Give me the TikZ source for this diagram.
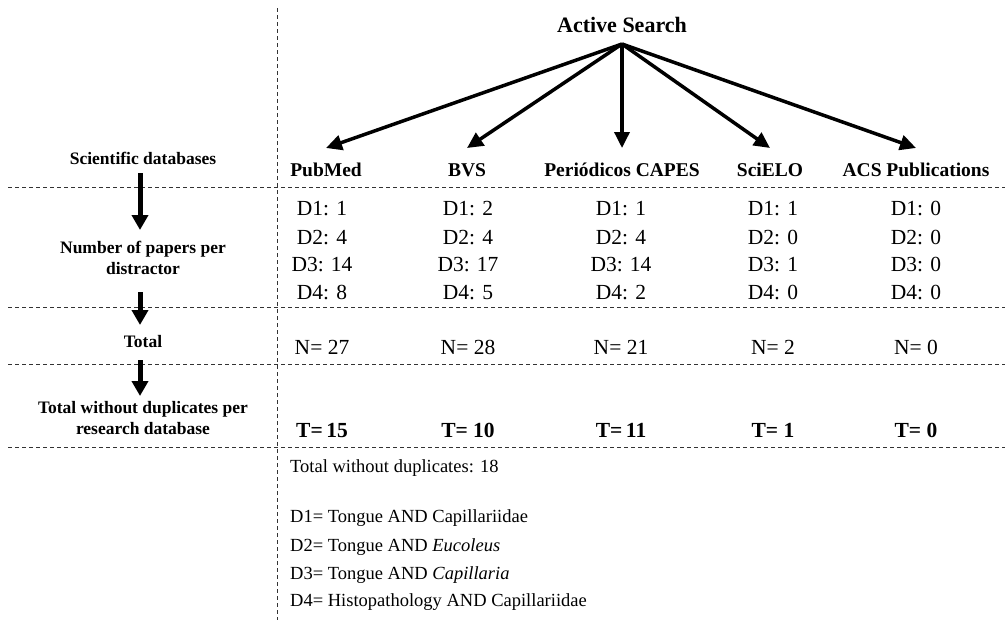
\documentclass[tikz,border=0pt]{standalone}
\usepackage{fontspec}
\setmainfont{Liberation Serif}
\usetikzlibrary{arrows.meta,calc}
\begin{document}
\begin{tikzpicture}[x=1pt,y=-1pt,
  sep/.style={dash pattern=on 4pt off 3pt, line width=1pt, color=black!80},
  fan/.style={line width=3.5pt, -{Triangle[length=16pt,width=15pt]}},
  down/.style={line width=5pt, -{Triangle[length=15pt,width=16pt]}},
  lab/.style={font=\bfseries\fontsize{17.5}{21}\selectfont, align=center, inner sep=0},
  hdr/.style={font=\bfseries\fontsize{19.5}{22}\selectfont, inner sep=0, anchor=base},
  title/.style={font=\bfseries\fontsize{22}{24}\selectfont, inner sep=0},
  cell/.style={font=\fontsize{21.5}{24}\selectfont, inner sep=0, anchor=base},
  tot/.style={font=\bfseries\fontsize{21.5}{24}\selectfont, inner sep=0, anchor=base},
  note/.style={font=\fontsize{18.5}{22}\selectfont, inner sep=0, anchor=west}]
\useasboundingbox (0,0) rectangle (1008,624);
\fill[white] (0,0) rectangle (1008,624);

% separators
\draw[sep] (277,8) -- (277,620);
\foreach \yy in {187,307,364,447} \draw[sep] (8,\yy) -- (1005,\yy);

% title and fan
\node[title] (AS) at (622,25) {Active Search};
\coordinate (src) at (622,44);
\foreach \n/\x/\t in {h1/326/PubMed, h2/467/BVS, h3/622/Periódicos CAPES, h4/770/SciELO, h5/916/ACS Publications}
  \node[hdr] (\n) at (\x,176) {\t};
\foreach \n in {h1,h2,h3,h4,h5}
  \draw[fan] (src) -- ([yshift=28pt]\n.base);

% left labels
\node[lab] (L1) at (143,158) {Scientific databases};
\node[lab] (L2) at (143,258) {Number of papers per\\distractor};
\node[lab] (L3) at (143,342) {Total};
\node[lab] (L4) at (143,418) {Total without duplicates per\\research database};
\draw[down] ([xshift=-3pt,yshift=-15pt]L1.center) -- ([xshift=-3pt,yshift=28pt]L2.center);
\draw[down] ([xshift=-3pt,yshift=-34pt]L2.center) -- ([xshift=-3pt,yshift=17pt]L3.center);
\draw[down] ([xshift=-3pt,yshift=-18pt]L3.center) -- ([xshift=-3pt,yshift=22pt]L4.center);

% data
\foreach \c/\x/\a/\b/\cc/\d/\N/\T in {
  1/322/1/4/14/8/27/{=\,15},
  2/468/2/4/17/5/28/{= 10},
  3/621/1/4/14/2/21/{=\,11},
  4/773/1/0/1/0/2/{= 1},
  5/916/0/0/0/0/0/{= 0}}{
  \node[cell] (d\c a) at (\x,215.5) {D1: \a};
  \node[cell] (d\c b) at (\x,244) {D2: \b};
  \node[cell] (d\c c) at (\x,271.5) {D3: \cc};
  \node[cell] (d\c d) at (\x,299.5) {D4: \d};
  \node[cell] (n\c) at (\x,354.5) {N= \N};
  \node[tot] (t\c) at (\x,437.5) {T\T};
}

% notes
\node[note] (tot) at (290,468) {Total without duplicates: 18};
\node[note] (k1) at (290,518) {D1= Tongue AND Capillariidae};
\node[note] (k2) at (290,547) {D2= Tongue AND \textit{Eucoleus}};
\node[note] (k3) at (290,575) {D3= Tongue AND \textit{Capillaria}};
\node[note] (k4) at (290,602) {D4= Histopathology AND Capillariidae};
\end{tikzpicture}
\end{document}
